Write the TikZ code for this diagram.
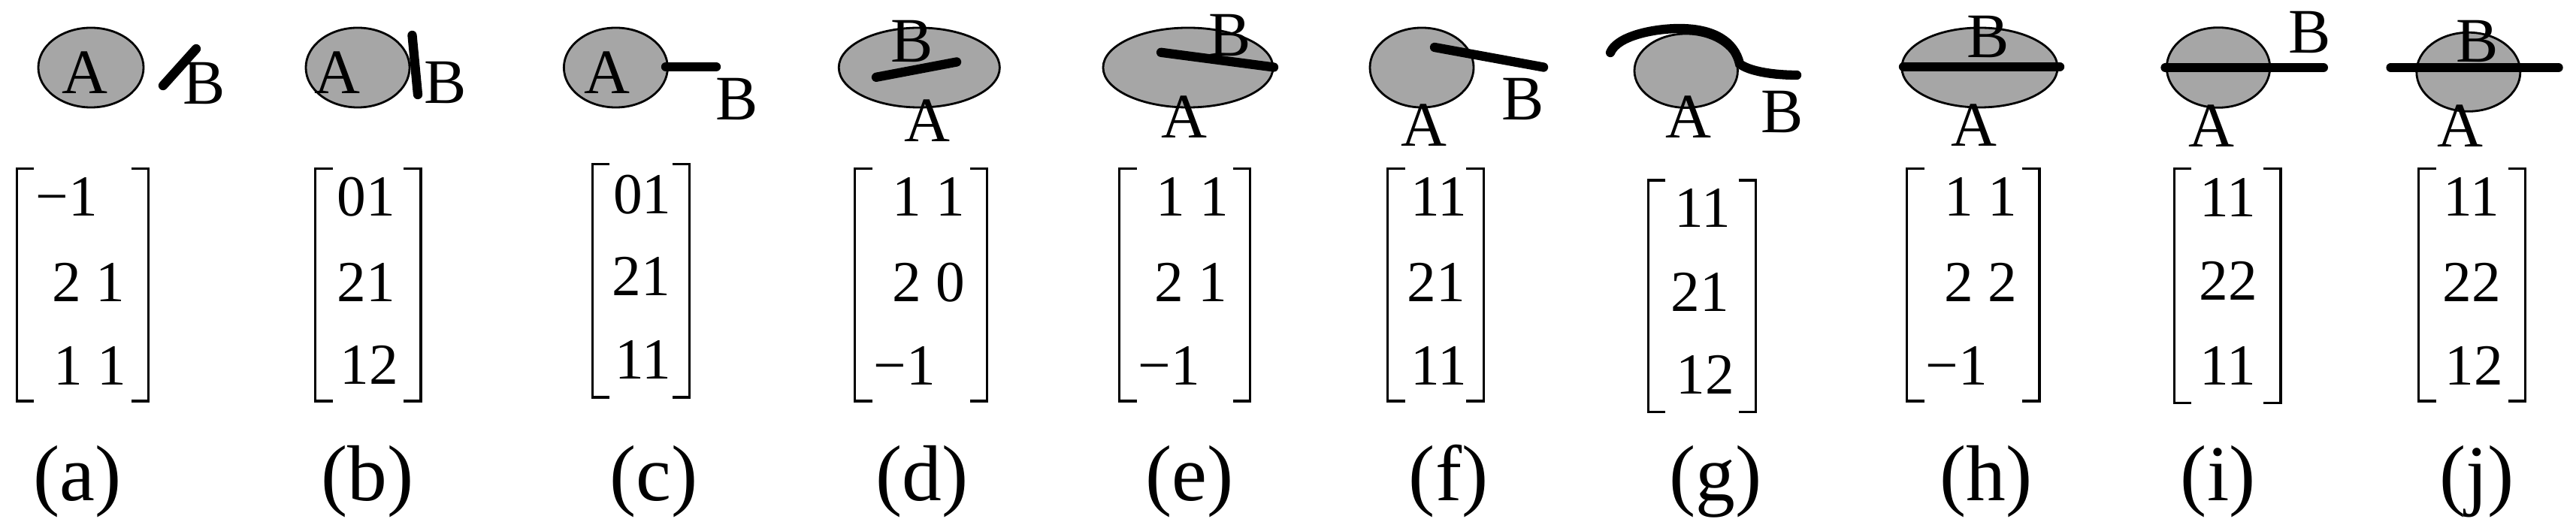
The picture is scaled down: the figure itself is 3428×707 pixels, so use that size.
\documentclass[tikz,border=0pt]{standalone}
\usepackage{fontspec}
\setmainfont{Liberation Serif}
\usepackage{xcolor}
\definecolor{blobgray}{HTML}{A6A6A6}
\newcommand{\matbox}[4]{% left x, right x, top y, bottom y
  \draw[brack] ({#1+23},#3) -| (#1,#4) -- ({#1+23},#4);
  \draw[brack] ({#2-23},#3) -| (#2,#4) -- ({#2-23},#4);}

\begin{document}
\begin{tikzpicture}[x=0.01cm, y=-0.01cm,
  blob/.style={draw, line width=0.8pt, fill=blobgray},
  rod/.style={line width=3.5pt, line cap=round},
  brack/.style={line width=0.95pt},
  letter/.style={font=\fontsize{24}{24}\selectfont, inner sep=0pt},
  entry/.style={font=\fontsize{22}{22}\selectfont, inner sep=0pt},
  sublabel/.style={font=\fontsize{30}{30}\selectfont, inner sep=0pt}]
  \useasboundingbox (0,0) rectangle (3428,707);

  % (a)
  \draw[blob] (121,90) ellipse [x radius=0.70cm, y radius=0.53cm];
  \draw[rod] (217,114) -- (261,65);
  \node[letter] (Aa) at (113,97) {A};
  \node[letter] (Ba) at (272,111) {B};
  \matbox{22.4}{197.6}{224.5}{534}
  \node[entry] (a1) at (88.6,262) {−1};
  \node[entry] (a2) at (117.8,376) {2 1};
  \node[entry] (a3) at (120,487) {1 1};
  \node[sublabel] (capa) at (103,641) {(a)};

  % (b)
  \draw[blob] (476,90) ellipse [x radius=0.69cm, y radius=0.53cm];
  \draw[rod] (548.5,47) -- (556,126);
  \node[letter] (Ab) at (449,96.5) {A};
  \node[letter] (Bb) at (593,110) {B};
  \matbox{419.5}{560}{224.5}{534}
  \node[entry] (b1) at (487,262) {01};
  \node[entry] (b2) at (487,376) {21};
  \node[entry] (b3) at (491,486) {12};
  \node[sublabel] (capb) at (489,641) {(b)};

  % (c)
  \draw[blob] (819.4,90) ellipse [x radius=0.69cm, y radius=0.53cm];
  \draw[rod] (886,88.9) -- (953,88.9);
  \node[letter] (Ac) at (807.7,96.5) {A};
  \node[letter] (Bc) at (980.4,132.4) {B};
  \matbox{788.4}{917.6}{218.6}{528.9}
  \node[entry] (c1) at (854.8,259) {01};
  \node[entry] (c2) at (853.2,368) {21};
  \node[entry] (c3) at (855.9,479) {11};
  \node[sublabel] (capc) at (870,641) {(c)};

  % (d)
  \draw[blob] (1223.3,90) ellipse [x radius=1.07cm, y radius=0.53cm];
  \draw[rod] (1166,102.8) -- (1273,82.5);
  \node[letter] (Bd) at (1213.3,55) {B};
  \node[letter] (Ad) at (1234,160.5) {A};
  \matbox{1137.5}{1313.8}{224.5}{534}
  \node[entry] (d1) at (1236.2,262) {1 1};
  \node[entry] (d2) at (1235.7,376) {2 0};
  \node[entry] (d3) at (1203.7,487) {−1};
  \node[sublabel] (capd) at (1227,641) {(d)};

  % (e)
  \draw[blob] (1581,90) ellipse [x radius=1.13cm, y radius=0.53cm];
  \draw[rod] (1545,69.8) -- (1695,89.5);
  \node[letter] (Be) at (1636.7,47) {B};
  \node[letter] (Ae) at (1576,156) {A};
  \matbox{1489.7}{1663.8}{224.5}{534}
  \node[entry] (e1) at (1587,262) {1 1};
  \node[entry] (e2) at (1585,376) {2 1};
  \node[entry] (e3) at (1555.7,487) {−1};
  \node[sublabel] (cape) at (1582.7,641) {(e)};

  % (f)
  \draw[blob] (1892,90) ellipse [x radius=0.69cm, y radius=0.53cm];
  \draw[rod] (1909,63) -- (2054,89.5);
  \node[letter] (Bf) at (2026.4,132.4) {B};
  \node[letter] (Af) at (1895.3,167) {A};
  \matbox{1846.5}{1974.4}{224.5}{534}
  \node[entry] (f1) at (1914.7,262) {11};
  \node[entry] (f2) at (1911.5,376) {21};
  \node[entry] (f3) at (1914.7,487) {11};
  \node[sublabel] (capf) at (1927.6,641) {(f)};

  % (g)
  \draw[blob] (2243.7,94.2) ellipse [x radius=0.687cm, y radius=0.492cm];
  \draw[rod] (2143,70) .. controls (2152,48) and (2200,38) .. (2235,38)
    .. controls (2280,38) and (2308,55) .. (2315,85)
    .. controls (2328,95) and (2360,100) .. (2391,100);
  \node[letter] (Ag) at (2246.7,155.7) {A};
  \node[letter] (Bg) at (2371.7,149) {B};
  \matbox{2193.3}{2336.5}{240}{548.6}
  \node[entry] (g1) at (2266,276.6) {11};
  \node[entry] (g2) at (2262.5,388.4) {21};
  \node[entry] (g3) at (2269,498.4) {12};
  \node[sublabel] (capg) at (2282.7,641) {(g)};

  % (h)
  \draw[blob] (2634.4,90) ellipse [x radius=1.036cm, y radius=0.53cm];
  \draw[rod] (2533,88.9) -- (2741,88.9);
  \node[letter] (Bh) at (2645.6,49.4) {B};
  \node[letter] (Ah) at (2627.2,167) {A};
  \matbox{2537.5}{2713.8}{224.5}{534}
  \node[entry] (h1) at (2636.2,262) {1 1};
  \node[entry] (h2) at (2635.7,376) {2 2};
  \node[entry] (h3) at (2603.7,487) {−1};
  \node[sublabel] (caph) at (2643,641) {(h)};

  % (i)
  \draw[blob] (2952,90) ellipse [x radius=0.687cm, y radius=0.533cm];
  \draw[rod] (2881.5,90) -- (3091.8,90);
  \node[letter] (Bi) at (3074,43.3) {B};
  \node[letter] (Ai) at (2942.5,167.5) {A};
  \matbox{2893.3}{3035}{224.3}{536.7}
  \node[entry] (i1) at (2965,262.5) {11};
  \node[entry] (i2) at (2965.3,374) {22};
  \node[entry] (i3) at (2965,486.7) {11};
  \node[sublabel] (capi) at (2951.7,641) {(i)};

  % (j)
  \draw[blob] (3284.8,95.8) ellipse [x radius=0.69cm, y radius=0.525cm];
  \draw[rod] (3181.5,90) -- (3404.5,90);
  \node[letter] (Bj) at (3296.7,55) {B};
  \node[letter] (Aj) at (3274,167.5) {A};
  \matbox{3218.5}{3360.6}{224.5}{534}
  \node[entry] (j1) at (3288.9,262) {11};
  \node[entry] (j2) at (3289,376) {22};
  \node[entry] (j3) at (3292,487) {12};
  \node[sublabel] (capj) at (3296,641) {(j)};
\end{tikzpicture}
\end{document}
